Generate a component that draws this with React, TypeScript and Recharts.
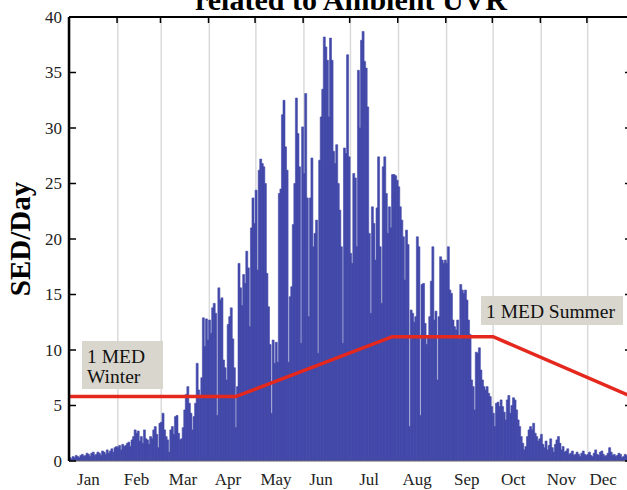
import React from 'react';
import { ComposedChart, Bar, Line, XAxis, YAxis, CartesianGrid } from 'recharts';

const monthNames = ['Jan', 'Feb', 'Mar', 'Apr', 'May', 'Jun', 'Jul', 'Aug', 'Sep', 'Oct', 'Nov', 'Dec'];
const monthDays = [31, 28, 31, 30, 31, 30, 31, 31, 30, 31, 30, 31];
const monthLabelDays = [12, 43, 73, 102, 133, 162, 193, 224, 256, 286, 317, 344];
const yTicks = [0, 5, 10, 15, 20, 25, 30, 35, 40];

const janSED = [0.3, 0.2, 0.4, 0.3, 0.5, 0.4, 0.3, 0.5, 0.6, 0.4, 0.5, 0.7, 0.6, 0.4, 0.7, 0.8, 0.5, 0.6, 0.8, 0.7, 0.5, 0.9, 0.8, 0.6, 1.0, 0.7, 0.9, 1.1, 0.8, 1.2, 1.3];
const febSED = [1.2, 1.4, 1.0, 1.5, 1.3, 1.4, 1.6, 1.7, 1.3, 1.9, 2.2, 2.8, 2.5, 2.7, 1.8, 2.2, 1.6, 2.8, 2.0, 1.9, 1.5, 2.2, 2.0, 2.8, 3.1, 2.4, 1.2, 3.4];
const marSED = [3.5, 4.3, 2.8, 2.2, 1.9, 0.8, 2.8, 3.1, 2.4, 4.0, 4.1, 2.5, 1.9, 2.0, 3.0, 4.6, 6.0, 6.7, 5.2, 4.3, 2.8, 4.0, 5.2, 8.8, 6.4, 5.8, 7.5, 12.9, 10.3, 12.8, 10.9];
const aprSED = [12.7, 11.5, 13.8, 14.2, 13.3, 4.1, 15.6, 14.5, 14.7, 9.1, 8.4, 7.3, 12.3, 13.0, 13.8, 11.0, 8.4, 3.0, 6.7, 17.8, 15.6, 14.0, 16.8, 16.0, 18.9, 17.4, 12.1, 21.0, 23.7, 21.4];
const maySED = [24.4, 17.2, 26.2, 27.2, 26.8, 26.5, 25.0, 16.9, 13.9, 10.5, 4.3, 10.9, 8.8, 10.7, 8.9, 24.1, 24.5, 31.2, 32.5, 28.3, 26.2, 8.9, 14.8, 15.7, 21.3, 25.0, 32.7, 29.5, 26.5, 10.6, 30.1];
const junSED = [25.9, 33.1, 23.7, 13.0, 23.7, 27.3, 19.3, 20.5, 21.7, 9.7, 27.1, 31.0, 33.5, 38.2, 37.3, 36.1, 31.0, 38.1, 36.1, 27.9, 26.8, 28.5, 25.0, 22.6, 19.3, 10.6, 28.2, 27.7, 36.6, 27.4];
const julSED = [18.7, 17.8, 25.9, 25.5, 19.3, 35.2, 30.0, 37.9, 38.7, 36.0, 35.4, 31.9, 20.5, 13.3, 22.9, 21.4, 18.1, 22.8, 27.4, 19.3, 14.2, 26.5, 27.4, 24.1, 20.5, 22.9, 21.0, 25.8, 25.8, 25.7, 25.3];
const augSED = [24.7, 22.9, 21.7, 20.2, 16.3, 20.8, 19.5, 3.1, 13.6, 13.3, 12.5, 13.0, 20.2, 19.3, 4.1, 15.9, 16.0, 12.4, 10.5, 11.2, 13.0, 16.2, 19.3, 12.7, 13.5, 7.3, 13.0, 18.4, 18.1, 17.8, 18.1];
const sepSED = [17.8, 19.3, 15.4, 15.1, 12.7, 12.1, 11.8, 12.7, 11.0, 15.9, 15.4, 15.1, 15.4, 14.5, 12.7, 11.4, 7.3, 6.7, 4.6, 9.8, 9.7, 10.2, 8.2, 7.3, 6.7, 6.4, 6.7, 6.1, 5.8, 4.9];
const octSED = [4.3, 3.1, 5.2, 5.3, 4.9, 5.5, 4.9, 4.4, 3.7, 5.5, 5.9, 4.3, 5.0, 5.7, 5.5, 4.6, 3.7, 3.1, 2.2, 1.6, 1.0, 1.3, 2.2, 2.8, 3.1, 2.8, 3.4, 2.5, 2.2, 1.8, 2.0];
const novSED = [2.4, 1.5, 1.2, 1.8, 1.0, 1.4, 2.0, 1.2, 0.8, 1.5, 1.9, 2.2, 1.6, 1.0, 1.3, 0.8, 0.9, 1.1, 0.6, 0.7, 0.9, 0.5, 0.6, 0.8, 0.6, 0.4, 0.7, 0.9, 0.6, 0.5];
const decSED = [0.6, 0.8, 0.5, 0.4, 0.7, 1.0, 0.6, 0.5, 0.8, 0.9, 0.6, 0.4, 0.5, 0.7, 1.2, 0.8, 0.5, 0.6, 0.4, 0.5, 0.7, 0.6, 0.3, 0.4, 0.6, 0.5, 0.4, 0.3, 0.5, 0.4, 0.3];

// 1 MED threshold line (breakpoints: day index, SED)
const medDays = [0, 107, 208, 273, 364];
const medValues = [5.8, 5.8, 11.2, 11.2, 5.7];

const sedPerDay = [
  ...janSED, ...febSED, ...marSED, ...aprSED, ...maySED, ...junSED,
  ...julSED, ...augSED, ...sepSED, ...octSED, ...novSED, ...decSED,
];

const monthStartDays = monthDays.reduce<number[]>((acc, d, i) => {
  acc.push(i === 0 ? 0 : acc[i - 1] + monthDays[i - 1]);
  return acc;
}, []);

const data = sedPerDay.map((v, i) => {
  const k = medDays.indexOf(i);
  return { day: i, sed: v, med: k >= 0 ? medValues[k] : null };
});

const monthOfDay = (d: number) => {
  let m = 0;
  for (let i = 0; i < monthStartDays.length; i++) if (d >= monthStartDays[i]) m = i;
  return monthNames[m];
};

const FONT = '"Liberation Serif", "Times New Roman", serif';
const BAR = '#4349a9';
const RED = '#e5281e';

const LeftTick = (props: any) => {
  const { x, y, payload } = props;
  return (
    <g>
      <line x1={x + 7} x2={x + 14} y1={y} y2={y} stroke="#000" strokeWidth={1.5} />
      <text x={x} y={y} textAnchor="end" dominantBaseline="central" fontFamily={FONT} fontSize={17} fill="#222">
        {payload.value}
      </text>
    </g>
  );
};

const RightTick = (props: any) => {
  const { x, y } = props;
  return <line x1={x - 10} x2={x} y1={y} y2={y} stroke="#000" strokeWidth={1.5} />;
};

const TopTick = (props: any) => {
  const { x, y, payload } = props;
  if (payload.value === 0) return <g />;
  return <line x1={x - 0.8} x2={x - 0.8} y1={y} y2={y + 6} stroke="#000" strokeWidth={1.5} />;
};

const BottomTick = (props: any) => {
  const { x, y, payload } = props;
  return (
    <text x={x} y={y + 24} textAnchor="middle" fontFamily={FONT} fontSize={17} fill="#222">
      {monthOfDay(payload.value)}
    </text>
  );
};

export default function App() {
  return (
    <div style={{ position: 'fixed', left: 0, top: 0, width: 627, height: 490, overflow: 'hidden', background: '#fff' }}>
      <ComposedChart
        width={640}
        height={490}
        data={data}
        margin={{ top: 0, right: 0, bottom: 0, left: 0 }}
        barCategoryGap={0}
        barGap={0}
      >
        <CartesianGrid xAxisId="top" horizontal={false} vertical stroke="#dadada" strokeWidth={1.5} />
        <XAxis
          dataKey="day"
          type="category"
          height={29}
          ticks={monthLabelDays}
          interval={0}
          tickSize={0}
          tickMargin={0}
          tick={<BottomTick />}
          tickLine={false}
          axisLine={{ stroke: '#666', strokeWidth: 1 }}
        />
        <XAxis
          xAxisId="top"
          dataKey="day"
          type="category"
          orientation="top"
          height={17}
          ticks={monthStartDays}
          interval={0}
          tickSize={0}
          tickMargin={0}
          tick={<TopTick />}
          tickLine={false}
          axisLine={{ stroke: '#000', strokeWidth: 2 }}
        />
        <YAxis
          width={69}
          domain={[0, 40]}
          ticks={yTicks}
          type="number"
          interval={0}
          tickSize={0}
          tickMargin={7}
          tick={<LeftTick />}
          tickLine={false}
          axisLine={{ stroke: '#000', strokeWidth: 2.5 }}
          allowDataOverflow
        />
        <YAxis
          yAxisId="right"
          orientation="right"
          width={5}
          domain={[0, 40]}
          ticks={yTicks}
          type="number"
          interval={0}
          tickSize={0}
          tickMargin={0}
          tick={<RightTick />}
          tickLine={false}
          axisLine={{ stroke: '#000', strokeWidth: 2 }}
          allowDataOverflow
        />
        <Bar dataKey="sed" fill={BAR} stroke={BAR} strokeWidth={0.6} isAnimationActive={false} />
        <Line
          dataKey="med"
          type="linear"
          connectNulls
          stroke={RED}
          strokeWidth={3.5}
          dot={false}
          activeDot={false}
          isAnimationActive={false}
        />
      </ComposedChart>
      <svg width={627} height={490} style={{ position: 'absolute', left: 0, top: 0, pointerEvents: 'none' }}>
        <text x={351} y={10} textAnchor="middle" fontFamily={FONT} fontWeight="bold" fontSize={30} fill="#000">
          related to Ambient UVR
        </text>
        <text
          transform="translate(30,239) rotate(-90)"
          textAnchor="middle"
          fontFamily={FONT}
          fontWeight="bold"
          fontSize={29}
          fill="#000"
        >
          SED/Day
        </text>
        <rect x={82} y={341} width={81} height={48} fill="#d9d6cd" />
        <text x={87} y={363} fontFamily={FONT} fontSize={19.5} fill="#111">1 MED</text>
        <text x={87} y={383} fontFamily={FONT} fontSize={19.5} fill="#111">Winter</text>
        <rect x={481} y={296} width={142} height={29} fill="#d9d6cd" />
        <text x={486} y={318} fontFamily={FONT} fontSize={19.5} fill="#111">1 MED Summer</text>
      </svg>
    </div>
  );
}
